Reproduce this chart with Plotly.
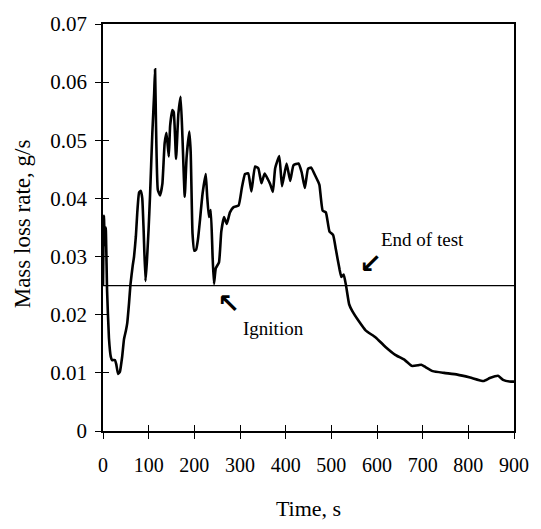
import plotly.graph_objects as go

time_s = [0, 2, 4, 6, 9, 13, 17, 20, 26, 29, 33, 37, 42, 46, 50, 53, 57, 60, 65,
          68, 72, 75, 79, 83, 86, 89, 93, 96, 100, 103, 108, 112, 114, 116, 120, 125, 130,
          135, 139, 144, 147, 152, 155, 160, 165, 170, 174, 179, 183, 189, 192, 196, 200,
          204, 208, 212, 218, 225, 228, 232, 236, 240, 243, 247, 254, 259, 265, 271, 278,
          286, 297, 304, 311, 318, 325, 333, 340, 347, 354, 361, 366, 372, 377, 386, 392,
          402, 410, 417, 428, 435, 442, 449, 456, 463, 471, 474, 481, 488, 496, 504, 510,
          518, 522, 527, 532, 539, 546, 560, 575, 597, 618, 640, 661, 676, 690, 697, 704,
          722, 747, 776, 804, 833, 847, 865, 876, 890, 900]
mass_loss = [0.025, 0.037, 0.032, 0.035, 0.024, 0.016, 0.0128, 0.0122, 0.0122,
             0.0115, 0.0098, 0.0102, 0.0128, 0.0158, 0.0172, 0.0185, 0.022, 0.0251, 0.0284,
             0.030, 0.0335, 0.0375, 0.041, 0.0413, 0.040, 0.0345, 0.0258, 0.029, 0.035,
             0.0405, 0.0512, 0.058, 0.0622, 0.053, 0.0415, 0.0405, 0.0425, 0.0495, 0.0513,
             0.0472, 0.0525, 0.0552, 0.0548, 0.0468, 0.0545, 0.0575, 0.0505, 0.0403, 0.047,
             0.0515, 0.048, 0.034, 0.031, 0.0312, 0.033, 0.036, 0.0408, 0.0442, 0.0405,
             0.0368, 0.038, 0.030, 0.0253, 0.028, 0.029, 0.0343, 0.0368, 0.0356, 0.0376,
             0.0385, 0.0388, 0.0418, 0.0442, 0.0443, 0.0412, 0.0455, 0.0452, 0.0426, 0.0443,
             0.0433, 0.0425, 0.0411, 0.0452, 0.0473, 0.0421, 0.046, 0.043, 0.0457, 0.046,
             0.0445, 0.0418, 0.0451, 0.0453, 0.0442, 0.0429, 0.0423, 0.0379, 0.0376, 0.0343,
             0.0337, 0.0312, 0.0278, 0.0265, 0.0269, 0.0251, 0.0218, 0.0206, 0.0189, 0.0173,
             0.0161, 0.0145, 0.0131, 0.0122, 0.0112, 0.0113, 0.0114, 0.0111, 0.0103, 0.0100,
             0.0097, 0.0092, 0.0086, 0.0091, 0.0095, 0.0088, 0.0085, 0.0085]

ref_x = [0, 900]
ref_y = [0.025, 0.025]

x_ticks = [0, 100, 200, 300, 400, 500, 600, 700, 800, 900]
y_ticks = [0, 0.01, 0.02, 0.03, 0.04, 0.05, 0.06, 0.07]
y_tick_text = ["0", "0.01", "0.02", "0.03", "0.04", "0.05", "0.06", "0.07"]

FONT = "Liberation Serif, Times New Roman, serif"

fig = go.Figure()
fig.add_trace(go.Scatter(x=time_s, y=mass_loss, mode="lines",
                         line=dict(color="black", width=2.6, shape="spline", smoothing=0.4),
                         showlegend=False, hoverinfo="skip"))
fig.add_trace(go.Scatter(x=ref_x, y=ref_y, mode="lines", xaxis="x2", yaxis="y2",
                         line=dict(color="black", width=1.4),
                         showlegend=False, hoverinfo="skip"))

common_x = dict(range=[0, 900], tickvals=x_ticks, tickmode="array", showgrid=False, zeroline=False,
                linecolor="black", linewidth=1.6, tickcolor="black", tickwidth=1.3, ticklen=6)
common_y = dict(range=[0, 0.07], tickvals=y_ticks, tickmode="array", showgrid=False, zeroline=False,
                linecolor="black", linewidth=1.6, tickcolor="black", tickwidth=1.3, ticklen=6)

fig.update_layout(
    width=541, height=529,
    margin=dict(l=103, r=21, t=14, b=96),
    paper_bgcolor="white", plot_bgcolor="white",
    font=dict(family=FONT, color="black", size=20),
    xaxis=dict(**common_x, ticks="outside", mirror=True, showline=True,
               ticktext=[str(v) for v in x_ticks], tickfont=dict(size=20),
               ticklabelstandoff=9,
               title=dict(text="Time, s", font=dict(size=22), standoff=26)),
    yaxis=dict(**common_y, ticks="outside", mirror=True, showline=True,
               ticktext=y_tick_text, tickfont=dict(size=21),
               ticklabelstandoff=4),
    xaxis2=dict(**common_x, ticks="inside", overlaying="x", anchor="y2",
                showticklabels=False, showline=False),
    yaxis2=dict(**common_y, ticks="inside", overlaying="y", anchor="x2",
                showticklabels=False, showline=False),
    annotations=[
        dict(text="Mass loss rate, g/s", xref="paper", yref="paper", x=-0.195, y=0.51,
             textangle=-90, showarrow=False, font=dict(size=23), xanchor="center", yanchor="middle"),
        dict(text="End of test", x=699, y=0.033, showarrow=False, font=dict(size=19)),
        dict(text="<b>↙</b>", x=585, y=0.0288, showarrow=False,
             font=dict(size=27, family="DejaVu Sans")),
        dict(text="Ignition", x=373, y=0.0176, showarrow=False, font=dict(size=19)),
        dict(text="<b>↖</b>", x=274, y=0.0219, showarrow=False,
             font=dict(size=27, family="DejaVu Sans")),
    ],
)

fig.write_html("out.html")
